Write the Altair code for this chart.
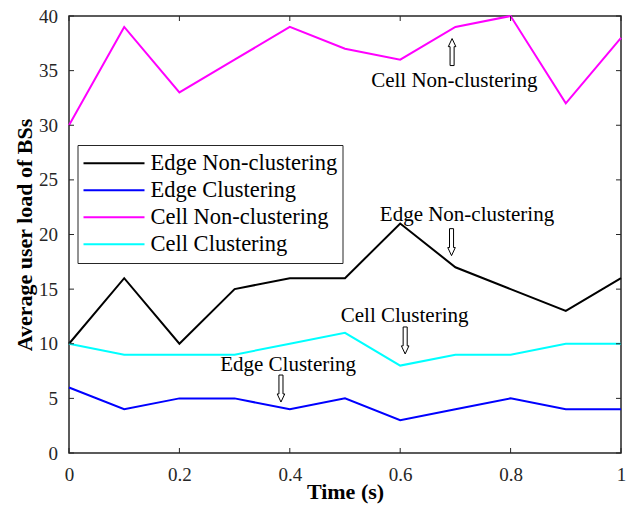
import altair as alt
import pandas as pd

# ---- data ----
time = [0, 0.1, 0.2, 0.3, 0.4, 0.5, 0.6, 0.7, 0.8, 0.9, 1.0]
edge_non = [10, 16, 10, 15, 16, 16, 21, 17, 15, 13, 16]
edge_clu = [6, 4, 5, 5, 4, 5, 3, 4, 5, 4, 4]
cell_non = [30, 39, 33, 36, 39, 37, 36, 39, 40, 32, 38]
cell_clu = [10, 9, 9, 9, 10, 11, 8, 9, 9, 10, 10]

series_names = ["Edge Non-clustering", "Edge Clustering", "Cell Non-clustering", "Cell Clustering"]
series_colors = ["#000000", "#0000ff", "#ff00ff", "#00ffff"]

x_ticks = [0, 0.2, 0.4, 0.6, 0.8, 1.0]
y_ticks = [0, 5, 10, 15, 20, 25, 30, 35, 40]

note_text = ["Cell Non-clustering", "Edge Non-clustering", "Cell Clustering", "Edge Clustering"]
note_x = [0.698, 0.721, 0.608, 0.397]
note_y = [33.5, 21.2, 12.0, 7.5]

arrow_x = [0.694, 0.693, 0.609, 0.384]
arrow_y = [36.7, 19.3, 10.3, 5.9]
arrow_dir = ["up", "down", "down", "down"]

# ---- tables ----
rows = []
for name, vals in zip(series_names, [edge_non, edge_clu, cell_non, cell_clu]):
    for t, v in zip(time, vals):
        rows.append({"time": t, "value": v, "series": name})
df = pd.DataFrame(rows)
xt = pd.DataFrame({"time": x_ticks})
yt = pd.DataFrame({"value": y_ticks})
notes = pd.DataFrame({"label": note_text, "time": note_x, "value": note_y})
arrows = pd.DataFrame({"time": arrow_x, "value": arrow_y, "dir": arrow_dir})

W, H = 552, 437
xs = alt.Scale(domain=[0, 1], nice=False, zero=False)
ys = alt.Scale(domain=[0, 40], nice=False)
AX = "#262626"
FONT = "Liberation Serif"

x_axis = alt.Axis(values=x_ticks, format="~g", labelFlush=False, labelBaseline="alphabetic",
                  labelPadding=27, title="Time (s)", titleX=W / 2, titleY=45,
                  titleBaseline="alphabetic", titleAlign="center")
y_axis = alt.Axis(values=y_ticks, labelPadding=11.5, title="Average user load of BSs",
                  titleX=-38, titleY=H / 2, titleAngle=270, titleBaseline="alphabetic",
                  titleAlign="center")
X = alt.X("time:Q", scale=xs, axis=x_axis)
Y = alt.Y("value:Q", scale=ys, axis=y_axis)

legend = alt.Legend(orient="none", legendX=8.5, legendY=129, title=None,
                    symbolType="stroke", symbolSize=3721, symbolStrokeWidth=2,
                    clipHeight=26.7, rowPadding=0, labelOffset=5, padding=5,
                    labelFont=FONT, labelFontSize=22.5, labelColor="#000000", labelLimit=400,
                    strokeColor=AX, fillColor="white")

lines = alt.Chart(df).mark_line(strokeWidth=2).encode(
    x=X, y=Y,
    color=alt.Color("series:N", scale=alt.Scale(domain=series_names, range=series_colors),
                    legend=legend),
)

tick_style = dict(color=AX, strokeWidth=1)
xb = alt.Chart(xt).mark_rule(**tick_style).encode(x=X, y=alt.value(H), y2=alt.value(H - 5))
xtp = alt.Chart(xt).mark_rule(**tick_style).encode(x=X, y=alt.value(0), y2=alt.value(5))
yl = alt.Chart(yt).mark_rule(**tick_style).encode(y=Y, x=alt.value(0), x2=alt.value(5))
yr = alt.Chart(yt).mark_rule(**tick_style).encode(y=Y, x=alt.value(W), x2=alt.value(W - 5))

text = alt.Chart(notes).mark_text(font=FONT, fontSize=21, color="#000000",
                                  align="center", baseline="alphabetic").encode(
    x=X, y=Y, text="label:N",
)

up_path = "M-0.15,1L0.15,1L0.15,-0.4L0.28,-0.4L0,-1L-0.28,-0.4L-0.15,-0.4Z"
down_path = "M-0.15,-1L0.15,-1L0.15,0.4L0.28,0.4L0,1L-0.28,0.4L-0.15,0.4Z"
arrow_marks = alt.Chart(arrows).mark_point(filled=True, fill="white", stroke="black",
                                           strokeWidth=1, size=729, opacity=1).encode(
    x=X, y=Y,
    shape=alt.Shape("dir:N", scale=alt.Scale(domain=["up", "down"], range=[up_path, down_path]),
                    legend=None),
)

chart = alt.layer(lines, xb, xtp, yl, yr, text, arrow_marks).properties(
    width=W, height=H,
    padding={"left": 69, "top": 16, "right": 11, "bottom": 59},
    autosize=alt.AutoSizeParams(type="none"),
    background="white",
).configure_view(
    stroke=AX, strokeWidth=1.5
).configure_axis(
    labelFont=FONT, labelFontSize=19, labelColor=AX,
    titleFont=FONT, titleFontSize=22, titleFontWeight="bold", titleColor="#000000",
    grid=False, domain=False, ticks=False,
)

chart.save("out.html", embed_options={"renderer": "svg", "actions": False})
